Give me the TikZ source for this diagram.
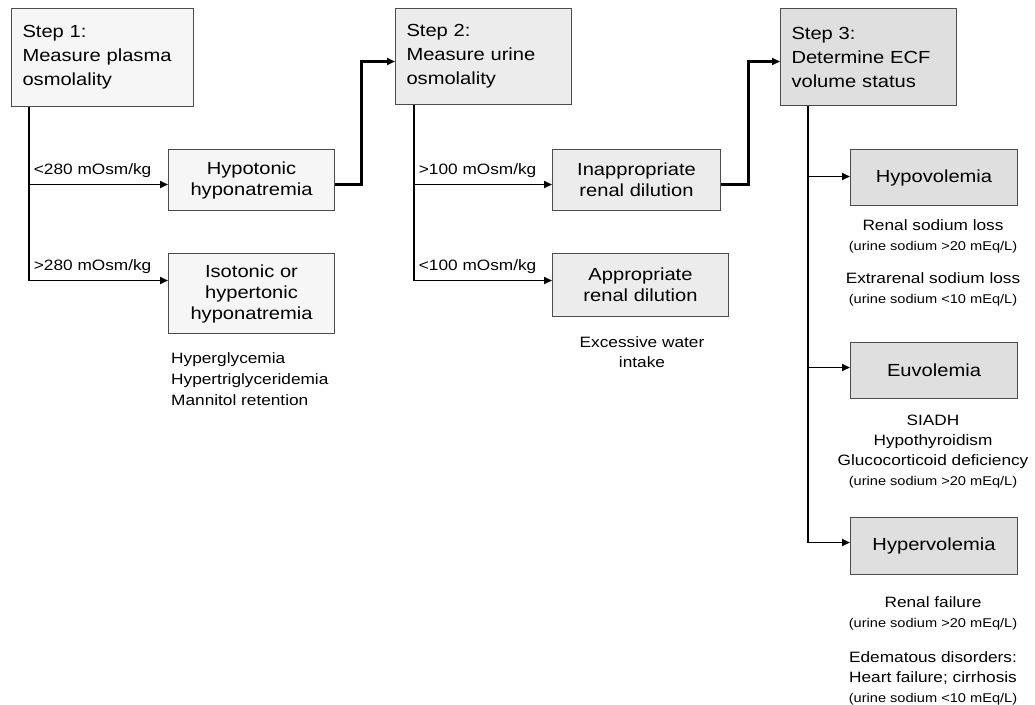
\documentclass[tikz,border=0pt]{standalone}
\usepackage{fontspec}
\setmainfont{Liberation Sans}[FakeStretch=1.15]
\usepackage{tikz}
\usetikzlibrary{arrows.meta,calc}

\definecolor{boxone}{gray}{0.965}
\definecolor{boxtwo}{gray}{0.925}
\definecolor{boxthree}{gray}{0.875}
\definecolor{edge}{gray}{0.3}

\newcommand{\urine}[1]{{\fontsize{12.7}{20}\selectfont (urine sodium #1 mEq/L)}}

\tikzset{
  stepbox/.style={draw=edge, line width=1pt, anchor=north west, align=left,
    inner xsep=11pt, inner ysep=0pt, font=\fontsize{17.5}{24}\selectfont},
  resbox/.style={draw=edge, line width=1pt, anchor=north west, align=center,
    inner sep=0pt, font=\fontsize{17.5}{21}\selectfont},
  note/.style={align=center, inner sep=0pt, font=\fontsize{15}{20}\selectfont},
  lbl/.style={anchor=south west, inner xsep=4pt, inner ysep=6pt,
    font=\fontsize{15}{18}\selectfont},
  trunk/.style={line width=2.5pt},
  branch/.style={line width=1.8pt, -{Triangle[length=8pt,width=7pt]}},
  link/.style={line width=3pt, -{Triangle[length=8pt,width=7pt]}},
}

\begin{document}
\begin{tikzpicture}[x=1pt, y=-1pt]
    \useasboundingbox (0,0) rectangle (1035,704);

    % step boxes
    \node[stepbox, fill=boxone, text width=160pt, minimum height=98pt] (s1) at (11,8)
        {Step 1:\\Measure plasma\\osmolality};
    \node[stepbox, fill=boxtwo, text width=154pt, minimum height=96pt] (s2) at (395,8)
        {Step 2:\\Measure urine\\osmolality};
    \node[stepbox, fill=boxthree, text width=154pt, minimum height=97pt] (s3) at (780,8)
        {Step 3:\\Determine ECF\\volume status};

    % result boxes
    \node[resbox, fill=boxone, minimum width=166pt, minimum height=61pt] (hypo) at (168,149)
        {Hypotonic\\hyponatremia};
    \node[resbox, fill=boxone, minimum width=166pt, minimum height=80pt] (iso) at (168,253)
        {Isotonic or\\hypertonic\\hyponatremia};
    \node[resbox, fill=boxtwo, minimum width=168pt, minimum height=61pt] (inapp) at (552,149)
        {Inappropriate\\renal dilution};
    \node[resbox, fill=boxtwo, minimum width=176pt, minimum height=63pt] (app) at (552,253)
        {Appropriate\\renal dilution};
    \node[resbox, fill=boxthree, minimum width=167pt, minimum height=56pt] (hypov) at (850,149)
        {Hypovolemia};
    \node[resbox, fill=boxthree, minimum width=167pt, minimum height=56pt] (euv) at (850,342)
        {Euvolemia};
    \node[resbox, fill=boxthree, minimum width=167pt, minimum height=57pt] (hyperv) at (850,517)
        {Hypervolemia};

    % step 1 branches
    \coordinate (t1) at ([xshift=18pt]s1.south west);
    \coordinate (a1) at ([yshift=-4.5pt]hypo.west);
    \coordinate (a2) at ([yshift=13pt]iso.west);
    \draw[trunk] (t1) -- (t1 |- a2);
    \draw[branch] (t1 |- a1) -- node[lbl, pos=0] {<280 mOsm/kg} (a1);
    \draw[branch] (t1 |- a2) -- node[lbl, pos=0] {>280 mOsm/kg} (a2);

    % step 2 branches
    \coordinate (t2) at ([xshift=19pt]s2.south west);
    \coordinate (b1) at ([yshift=-4.5pt]inapp.west);
    \coordinate (b2) at ([yshift=4.5pt]app.west);
    \draw[trunk] (t2) -- (t2 |- b2);
    \draw[branch] (t2 |- b1) -- node[lbl, pos=0] {>100 mOsm/kg} (b1);
    \draw[branch] (t2 |- b2) -- node[lbl, pos=0] {<100 mOsm/kg} (b2);

    % step 3 branches
    \coordinate (t3) at ([xshift=28pt]s3.south west);
    \coordinate (c1) at ([yshift=1pt]hypov.west);
    \coordinate (c2) at ([yshift=3pt]euv.west);
    \coordinate (c3) at ([yshift=3.5pt]hyperv.west);
    \draw[trunk] (t3) -- (t3 |- c3);
    \draw[branch] (t3 |- c1) -- (c1);
    \draw[branch] (t3 |- c2) -- (c2);
    \draw[branch] (t3 |- c3) -- (c3);

    % links to next step
    \draw[link] ([yshift=-4.5pt]hypo.east) -- ++(26,0) |- ([yshift=-5pt]s2.west);
    \draw[link] ([yshift=-4.5pt]inapp.east) -- ++(27,0) |- ([yshift=-4.5pt]s3.west);

    % notes
    \node[note, align=left, anchor=west, font=\fontsize{15}{21}\selectfont] (isonote) at (171,379)
        {Hyperglycemia\\Hypertriglyceridemia\\Mannitol retention};
    \node[note] (appnote) at (642,352) {Excessive water\\intake};
    \node[note] (hypovnote1) at (933,236.5) {Renal sodium loss\\\urine{>20}};
    \node[note] (hypovnote2) at (933,289) {Extrarenal sodium loss\\\urine{<10}};
    \node[note] (euvnote) at (933,452) {SIADH\\Hypothyroidism\\Glucocorticoid deficiency\\\urine{>20}};
    \node[note] (hypervnote1) at (933,613) {Renal failure\\\urine{>20}};
    \node[note] (hypervnote2) at (933,678.5) {Edematous disorders:\\Heart failure; cirrhosis\\\urine{<10}};
\end{tikzpicture}
\end{document}
